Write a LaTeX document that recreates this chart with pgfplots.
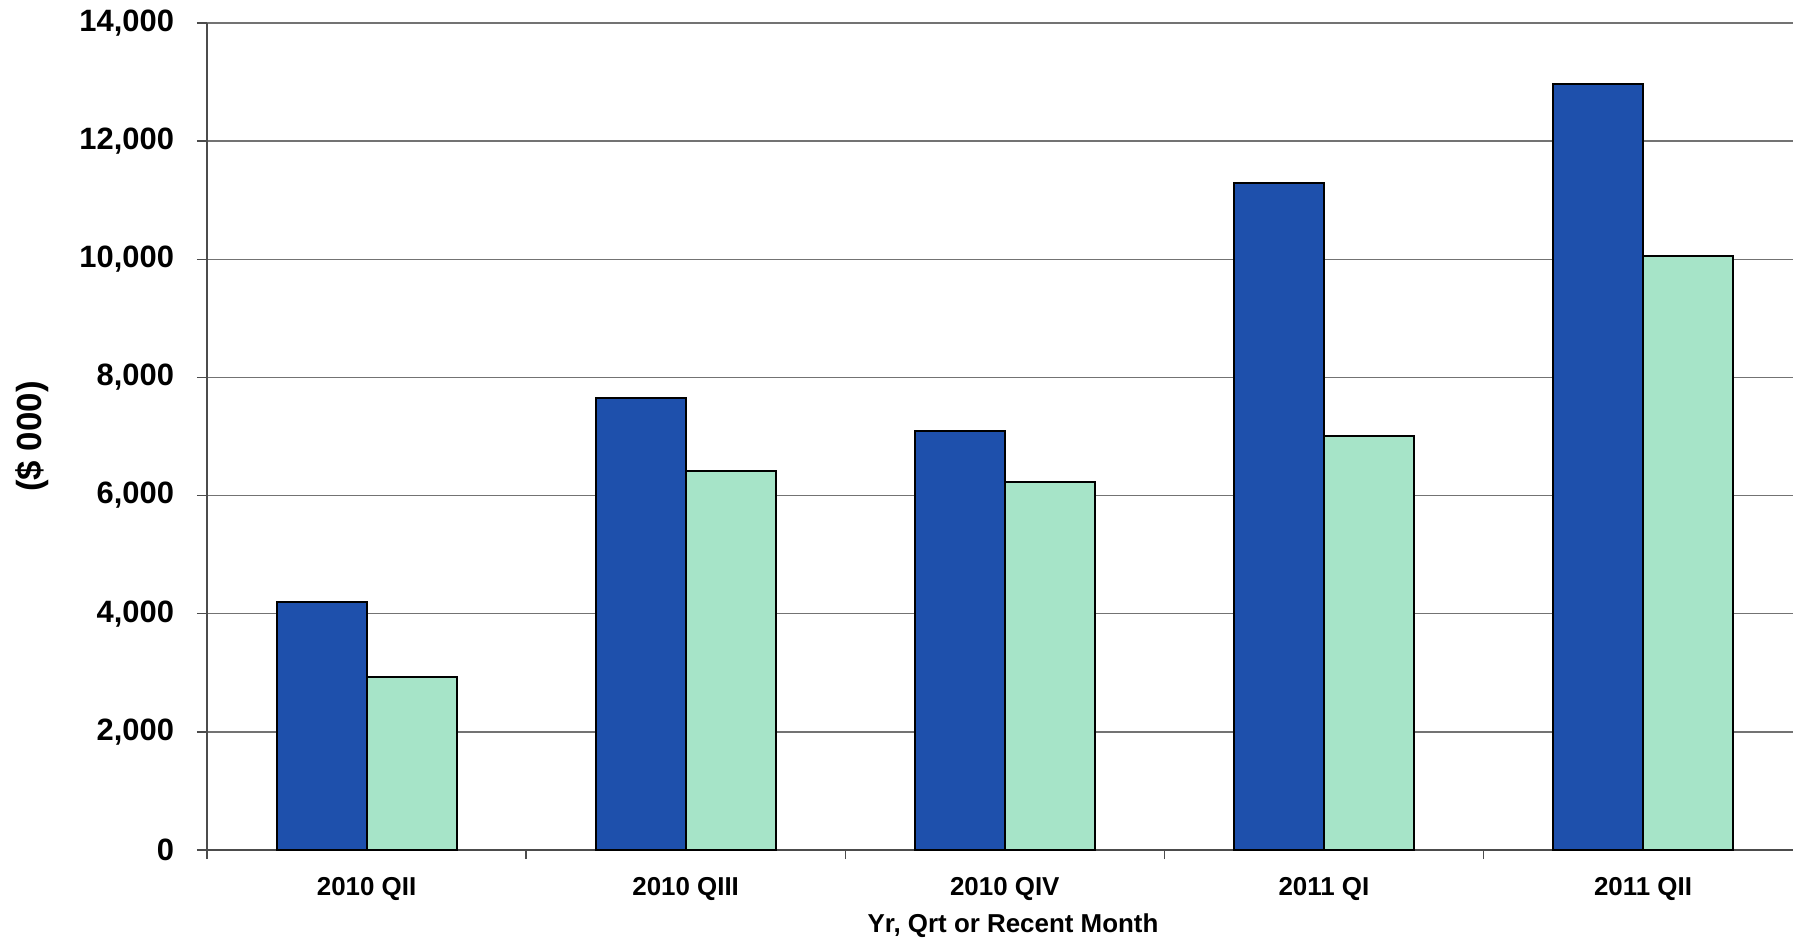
\documentclass[border=0pt]{standalone}
\usepackage{fontspec}
\setmainfont{Liberation Sans}
\usepackage{pgfplots}
\pgfplotsset{compat=1.18}

\definecolor{barblue}{RGB}{30,80,172}
\definecolor{bargreen}{RGB}{166,228,200}
\definecolor{gridgray}{RGB}{115,115,115}

\begin{document}
\begin{tikzpicture}
\begin{axis}[
    name=ax,
    scale only axis,
    width=793bp, height=413.5bp,
    ybar=0pt, bar width=45bp,
    xmin=-0.5, xmax=4.47,
    ymin=0, ymax=14000,
    axis lines*=left,
    axis line style={draw=black!70, line width=0.8bp},
    xtick={0,1,2,3,4},
    xticklabels={2010 QII,2010 QIII,2010 QIV,2011 QI,2011 QII},
    minor xtick={-0.5,0.5,1.5,2.5,3.5},
    major x tick style={draw=none},
    minor x tick style={draw=black!70, line width=0.7bp},
    ytick={0,2000,...,14000},
    y tick style={draw=black!70, line width=0.7bp},
    tick align=outside,
    major tick length=5bp, minor tick length=4.5bp,
    ymajorgrids,
    grid style={draw=gridgray, line width=0.75bp},
    scaled y ticks=false,
    /pgf/number format/assume math mode=true,
    /pgf/number format/1000 sep={,},
    yticklabel style={font=\fontsize{15.5}{18}\selectfont\bfseries, xshift=-8bp},
    xticklabel style={font=\fontsize{13}{16}\selectfont\bfseries, yshift=-5bp},
    xlabel={Yr, Qrt or Recent Month},
    xlabel style={font=\fontsize{13}{16}\selectfont\bfseries,
        at={(axis description cs:0.5,0)}, anchor=center, yshift=-38bp, xshift=6.5bp},
    ylabel={(\$ 000)},
    ylabel style={font=\fontsize{17.5}{20}\selectfont\bfseries,
        at={(axis description cs:0,0.5)}, anchor=center, yshift=87.5bp},
    clip=false,
]
\addplot[fill=barblue, draw=black, line width=1bp] coordinates {
    (0,4190) (1,7660) (2,7090) (3,11290) (4,12960)
};
\addplot[fill=bargreen, draw=black, line width=1bp] coordinates {
    (0,2930) (1,6410) (2,6230) (3,7000) (4,10050)
};
\end{axis}
\pgfresetboundingbox
\path ([xshift=-103.5bp,yshift=-45bp]ax.south west) rectangle ([yshift=11.5bp]ax.north east);
\end{tikzpicture}
\end{document}
